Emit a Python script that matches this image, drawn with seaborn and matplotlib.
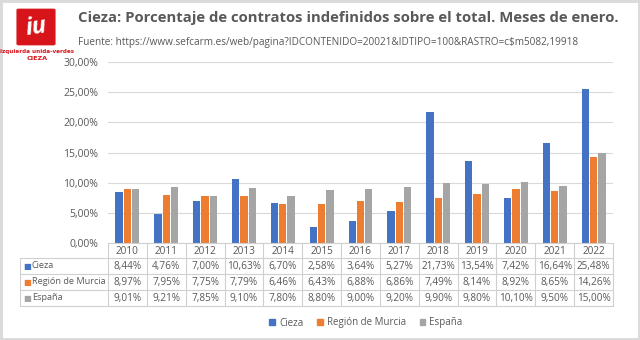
import matplotlib
matplotlib.use("Agg")
import matplotlib.pyplot as plt
import matplotlib.patches as mpatches
import matplotlib.transforms as mtransforms
import seaborn as sns
import pandas as pd

years = ["2010", "2011", "2012", "2013", "2014", "2015", "2016", "2017", "2018", "2019", "2020", "2021", "2022"]
series_names = ["Cieza", "Región de Murcia", "España"]
cieza = [8.44, 4.76, 7.00, 10.63, 6.70, 2.58, 3.64, 5.27, 21.73, 13.54, 7.42, 16.64, 25.48]
murcia = [8.97, 7.95, 7.75, 7.79, 6.46, 6.43, 6.88, 6.86, 7.49, 8.14, 8.92, 8.65, 14.26]
espana = [9.01, 9.21, 7.85, 9.10, 7.80, 8.80, 9.00, 9.20, 9.90, 9.80, 10.10, 9.50, 15.00]
yticks = [0, 5, 10, 15, 20, 25, 30]
colors = ["#4472C4", "#ED7D31", "#A5A5A5"]

title = "Cieza: Porcentaje de contratos indefinidos sobre el total. Meses de enero."
subtitle = "Fuente: https://www.sefcarm.es/web/pagina?IDCONTENIDO=20021&IDTIPO=100&RASTRO=c$m5082,19918"

values = [cieza, murcia, espana]
df = pd.DataFrame({
    "year": years * 3,
    "serie": [s for s in series_names for _ in years],
    "valor": cieza + murcia + espana,
})

sns.set_theme(style="white")
plt.rcParams["font.family"] = ["Open Sans", "DejaVu Sans"]

W, H = 640, 340
fig = plt.figure(figsize=(6.4, 3.4), dpi=100)
fig.patch.set_facecolor("white")

# outer frame
fig.add_artist(mpatches.Rectangle((0, 0), 1, 1, transform=fig.transFigure,
                                  fill=False, edgecolor="#DADADA", linewidth=3.5))

ax_l, ax_r, ax_t, ax_b = 108, 613, 62, 243
ax = fig.add_axes([ax_l / W, 1 - ax_b / H, (ax_r - ax_l) / W, (ax_b - ax_t) / H])

sns.barplot(data=df, x="year", y="valor", hue="serie", palette=colors,
            width=0.64, gap=0.12, ax=ax, legend=False, saturation=1, linewidth=0)

ax.set_ylim(0, 30)
ax.set_xlim(-0.5, len(years) - 0.5)
ax.set_yticks(yticks)
ax.set_yticklabels([f"{v:.2f}".replace(".", ",") + "%" for v in yticks],
                   fontsize=7.5, color="#595959")
ax.tick_params(axis="y", length=0, pad=7)
ax.set_xticks([])
ax.set_xlabel("")
ax.set_ylabel("")
ax.yaxis.grid(True, color="#D9D9D9", linewidth=0.8)
ax.set_axisbelow(True)
for s in ax.spines.values():
    s.set_visible(False)

# data table beneath
trans = mtransforms.blended_transform_factory(ax.transData, fig.transFigure)
def fy(py):
    return 1 - py / H
line_c = "#D0D0D0"
row_edges = [243, 258, 274, 290, 306]
x_left_data = -0.5 - (ax_l - 20) / ((ax_r - ax_l) / len(years))
n = len(years)
ax.plot([-0.5, n - 0.5], [fy(243)] * 2, transform=trans, color=line_c, lw=0.8, clip_on=False)
for py in row_edges[1:]:
    ax.plot([x_left_data, n - 0.5], [fy(py)] * 2, transform=trans, color=line_c, lw=0.8, clip_on=False)
for i in range(n + 1):
    ax.plot([i - 0.5] * 2, [fy(243), fy(306)], transform=trans, color=line_c, lw=0.8, clip_on=False)
ax.plot([x_left_data] * 2, [fy(258), fy(306)], transform=trans, color=line_c, lw=0.8, clip_on=False)

txt_c = "#595959"
fs = 7.2
for i, y in enumerate(years):
    ax.text(i, fy(251), y, transform=trans, ha="center", va="center", fontsize=fs, color=txt_c, clip_on=False)
for r, (name, vals, col) in enumerate(zip(series_names, values, colors)):
    cy = fy((row_edges[r + 1] + row_edges[r + 2]) / 2)
    fig.text(23 / W, cy, "■", ha="left", va="center", fontsize=6, color=col,
             family="DejaVu Sans")
    fig.text(32 / W, cy, name, ha="left", va="center", fontsize=6.6, color=txt_c)
    for i, v in enumerate(vals):
        ax.text(i, cy, f"{v:.2f}".replace(".", ",") + "%", transform=trans,
                ha="center", va="center", fontsize=fs, color=txt_c, clip_on=False)

# legend
handles = [mpatches.Patch(color=c, label=n) for c, n in zip(colors, series_names)]
fig.legend(handles=handles, loc="center", bbox_to_anchor=(366 / W, 1 - 323 / H),
           ncol=3, frameon=False, fontsize=7, handlelength=0.6, handleheight=0.6,
           handletextpad=0.4, columnspacing=1.4, labelcolor=txt_c)

# title and subtitle
fig.text(78 / W, 1 - 18 / H, title, ha="left", va="center", fontsize=10.7,
         fontweight="bold", color="#595959")
fig.text(78 / W, 1 - 42 / H, subtitle, ha="left", va="center", fontsize=7.2,
         color="#595959")

# logo
logo = mpatches.FancyBboxPatch((19 / W, 1 - 44 / H), 34 / W, 34 / H,
                               boxstyle="round,pad=0.004", transform=fig.transFigure,
                               facecolor="#D7141A", edgecolor="none")
fig.add_artist(logo)
fig.text(36 / W, 1 - 28 / H, "iu", ha="center", va="center", fontsize=17,
         fontweight="bold", style="italic", color="white", rotation=8)
fig.text(37 / W, 1 - 51 / H, "izquierda unida-verdes", ha="center", va="center",
         fontsize=4.1, fontweight="bold", color="#D7141A", family="DejaVu Sans")
fig.text(37 / W, 1 - 59 / H, "CIEZA", ha="center", va="center",
         fontsize=4.6, fontweight="bold", color="#D7141A", family="DejaVu Sans")

fig.savefig("out.png", dpi=100, facecolor="white")
